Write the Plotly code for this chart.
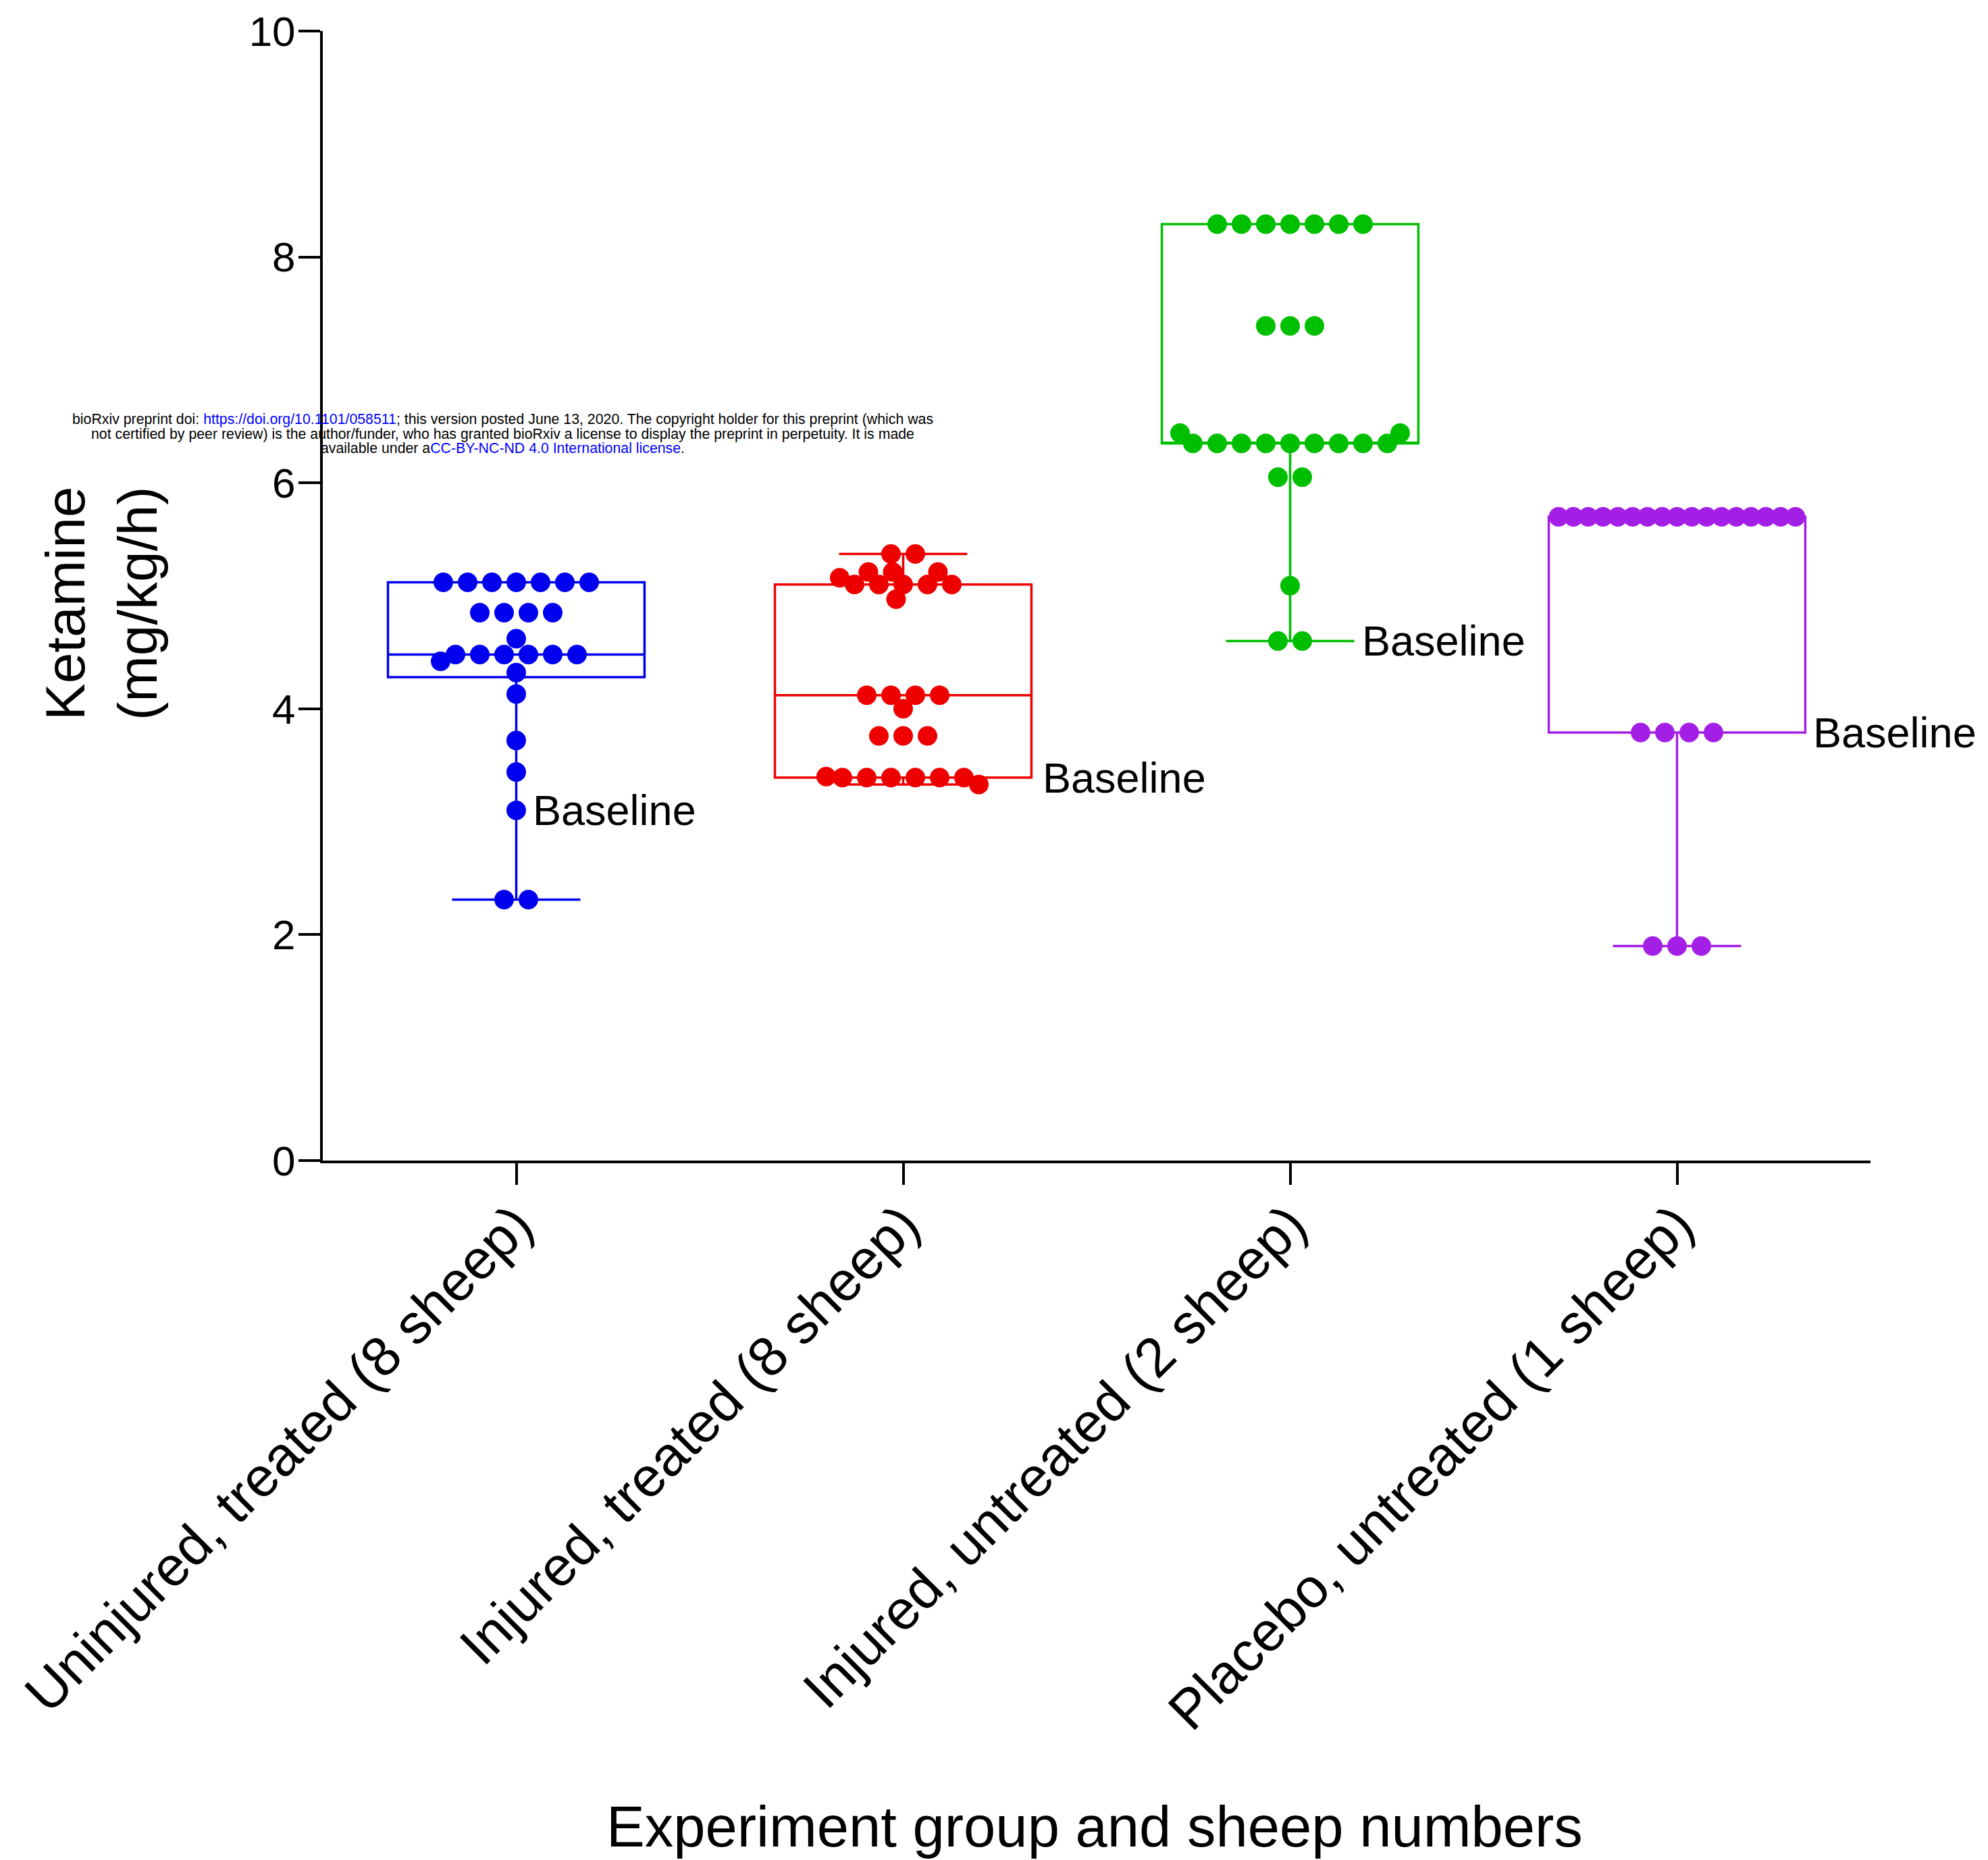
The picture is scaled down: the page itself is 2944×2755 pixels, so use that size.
import numpy as np
import plotly.graph_objects as go

# ---------------- data ----------------
categories = [
    "Uninjured, treated (8 sheep)",
    "Injured, treated (8 sheep)",
    "Injured, untreated (2 sheep)",
    "Placebo, untreated (1 sheep)",
]

uninjured_treated = [5.12, 5.12, 5.12, 5.12, 5.12, 5.12, 5.12,
                     4.85, 4.85, 4.85, 4.85,
                     4.62,
                     4.48, 4.48, 4.48, 4.48, 4.48, 4.48,
                     4.42, 4.32, 4.13, 3.72, 3.44, 3.10,
                     2.31, 2.31]
injured_treated = [5.37, 5.37,
                   5.21, 5.21, 5.21,
                   5.16,
                   5.10, 5.10, 5.10, 5.10, 5.10,
                   4.97,
                   4.12, 4.12, 4.12, 4.12,
                   4.00,
                   3.76, 3.76, 3.76,
                   3.40,
                   3.39, 3.39, 3.39, 3.39, 3.39, 3.39,
                   3.33]
injured_untreated = [8.29, 8.29, 8.29, 8.29, 8.29, 8.29, 8.29,
                     7.39, 7.39, 7.39,
                     6.44, 6.44,
                     6.35, 6.35, 6.35, 6.35, 6.35, 6.35, 6.35, 6.35, 6.35,
                     6.05, 6.05,
                     5.09,
                     4.60, 4.60]
placebo_untreated = [5.70, 5.70, 5.70, 5.70, 5.70, 5.70, 5.70, 5.70, 5.70,
                     5.70, 5.70, 5.70, 5.70, 5.70, 5.70, 5.70, 5.70,
                     3.79, 3.79, 3.79, 3.79,
                     1.90, 1.90, 1.90]

groups = [uninjured_treated, injured_treated, injured_untreated, placebo_untreated]

# box statistics as drawn in the reference
box_q1 = [4.28, 3.39, 6.35, 3.79]
box_median = [4.48, 4.12, 6.35, 5.70]
box_q3 = [5.12, 5.10, 8.29, 5.70]
box_lower = [2.31, 3.33, 4.60, 1.90]
box_upper = [5.12, 5.37, 8.29, 5.70]

baseline_values = [3.10, 3.39, 4.60, 3.79]

y_ticks = [0, 2, 4, 6, 8, 10]

colors = ["#0000EE", "#EE0000", "#00BE00", "#A41FE6"]

# ---------------- layout geometry ----------------
W, H = 2944, 2755
ML, MR, MT, MB = 478, 174, 44, 1036
PW = W - ML - MR
PH = H - MT - MB
XR = [-0.5, 3.5]
YR = [0, 10]
PX_X = PW / (XR[1] - XR[0])
PX_Y = PH / (YR[1] - YR[0])

BOX_W = 0.663
MARK = 29
SPACING = 36.0
COLL = 24.0
MAXHALF = BOX_W / 2 * PX_X - MARK / 2


def px_to_paper_x(px):
    return (px - ML) / PW


def px_to_paper_y(py):
    return (H - MB - py) / PH


def swarm(values):
    """Beeswarm offsets (in pixels) for a list of values."""
    vals = np.asarray(values, dtype=float)
    uniq, counts = np.unique(vals, return_counts=True)
    rows = sorted(zip(uniq, counts), key=lambda t: (-t[1], -t[0]))
    placed = []
    offsets = {}

    def collides(x, y, rid, thr_row):
        for (px, py, prid) in placed:
            dx, dy = x - px, y - py
            thr = thr_row if prid == rid else COLL
            if dx * dx + dy * dy < thr * thr - 1e-6:
                return True
        return False

    for rid, (v, n) in enumerate(rows):
        y = v * PX_Y
        dd = SPACING if n == 1 else min(SPACING, 2 * MAXHALF / (n - 1))
        thr_row = min(COLL, dd) * 0.999
        ideal = [(i - (n - 1) / 2) * dd for i in range(n)]
        order = sorted(range(n), key=lambda i: (abs(ideal[i]), ideal[i]))
        res = []
        for i in order:
            p = ideal[i]
            found = None
            step = 0.5
            k = 0
            while k * step <= MAXHALF + SPACING:
                if p > 1e-9:
                    cands = [p + k * step]
                elif p < -1e-9:
                    cands = [p - k * step]
                else:
                    cands = [-k * step, k * step] if k else [0.0]
                for c in cands:
                    if not collides(c, y, rid, thr_row):
                        found = c
                        break
                if found is not None:
                    break
                k += 1
            if found is None:
                found = p
            placed.append((found, y, rid))
            res.append(found)
        offsets[v] = sorted(res)
    out = []
    used = {}
    for v in vals:
        j = used.get(v, 0)
        out.append(offsets[v][j])
        used[v] = j + 1
    return out


fig = go.Figure()

FONT = "Liberation Sans, Arial, Helvetica, sans-serif"

for i, vals in enumerate(groups):
    fig.add_trace(go.Box(
        x=[i], q1=[box_q1[i]], median=[box_median[i]], q3=[box_q3[i]],
        lowerfence=[box_lower[i]], upperfence=[box_upper[i]],
        width=BOX_W, whiskerwidth=0.5,
        fillcolor="rgba(0,0,0,0)",
        line=dict(color=colors[i], width=3.5),
        boxpoints=False, showlegend=False, hoverinfo="skip",
    ))

for i, vals in enumerate(groups):
    offs = swarm(vals)
    xs = [i + o / PX_X for o in offs]
    fig.add_trace(go.Scatter(
        x=xs, y=vals, mode="markers",
        marker=dict(size=MARK, color=colors[i], line=dict(width=0)),
        showlegend=False, cliponaxis=False,
    ))

annotations = []
baseline_shift = [22, 204, 104, 199]
for i, bv in enumerate(baseline_values):
    annotations.append(dict(
        x=i, y=bv, xref="x", yref="y", text="Baseline", showarrow=False,
        xanchor="left", yanchor="middle", xshift=baseline_shift[i],
        font=dict(family=FONT, size=63, color="black"),
    ))

# y-axis title
annotations.append(dict(
    x=px_to_paper_x(150), y=px_to_paper_y(893), xref="paper", yref="paper",
    text="Ketamine<br>(mg/kg/h)", textangle=-90, showarrow=False,
    xanchor="center", yanchor="middle",
    font=dict(family=FONT, size=82, color="black"),
))
# x-axis title
annotations.append(dict(
    x=px_to_paper_x(1621), y=px_to_paper_y(2707), xref="paper", yref="paper",
    text="Experiment group and sheep numbers", showarrow=False,
    xanchor="center", yanchor="middle",
    font=dict(family=FONT, size=85, color="black"),
))

# bioRxiv header
header_lines = [
    'bioRxiv preprint doi: <span style="color:#0000FF">https://doi.org/10.1101/058511</span>; this version posted June 13, 2020. The copyright holder for this preprint (which was',
    'not certified by peer review) is the author/funder, who has granted bioRxiv a license to display the preprint in perpetuity. It is made',
    'available under a<span style="color:#0000FF">CC-BY-NC-ND 4.0 International license</span>.',
]
header_y = [620, 642, 663]
for t, yy in zip(header_lines, header_y):
    annotations.append(dict(
        x=px_to_paper_x(744), y=px_to_paper_y(yy), xref="paper", yref="paper",
        text=t, showarrow=False, xanchor="center", yanchor="middle",
        font=dict(family=FONT, size=21.3, color="black"),
    ))

fig.update_layout(
    width=W, height=H, autosize=False,
    margin=dict(l=ML, r=MR, t=MT, b=MB, pad=0),
    paper_bgcolor="white", plot_bgcolor="white",
    boxmode="overlay",
    showlegend=False,
    annotations=annotations,
    xaxis=dict(
        range=XR, tickmode="array", tickvals=[0, 1, 2, 3], ticktext=categories,
        tickangle=-45, ticks="outside", ticklen=32, tickwidth=4, tickcolor="black",
        ticklabelstandoff=-22,
        showline=True, linewidth=4, linecolor="black", showgrid=False, zeroline=False,
        tickfont=dict(family=FONT, size=82, color="black"),
    ),
    yaxis=dict(
        range=YR, tickmode="array", tickvals=y_ticks,
        ticks="outside", ticklen=32, tickwidth=4, tickcolor="black",
        ticklabelstandoff=-8,
        showline=True, linewidth=4, linecolor="black", showgrid=False, zeroline=False,
        tickfont=dict(family=FONT, size=62, color="black"),
    ),
)

fig.write_html(
    "out.html",
    config={"displayModeBar": False},
    post_script="document.body.style.margin='0';document.body.style.overflow='hidden';",
)
